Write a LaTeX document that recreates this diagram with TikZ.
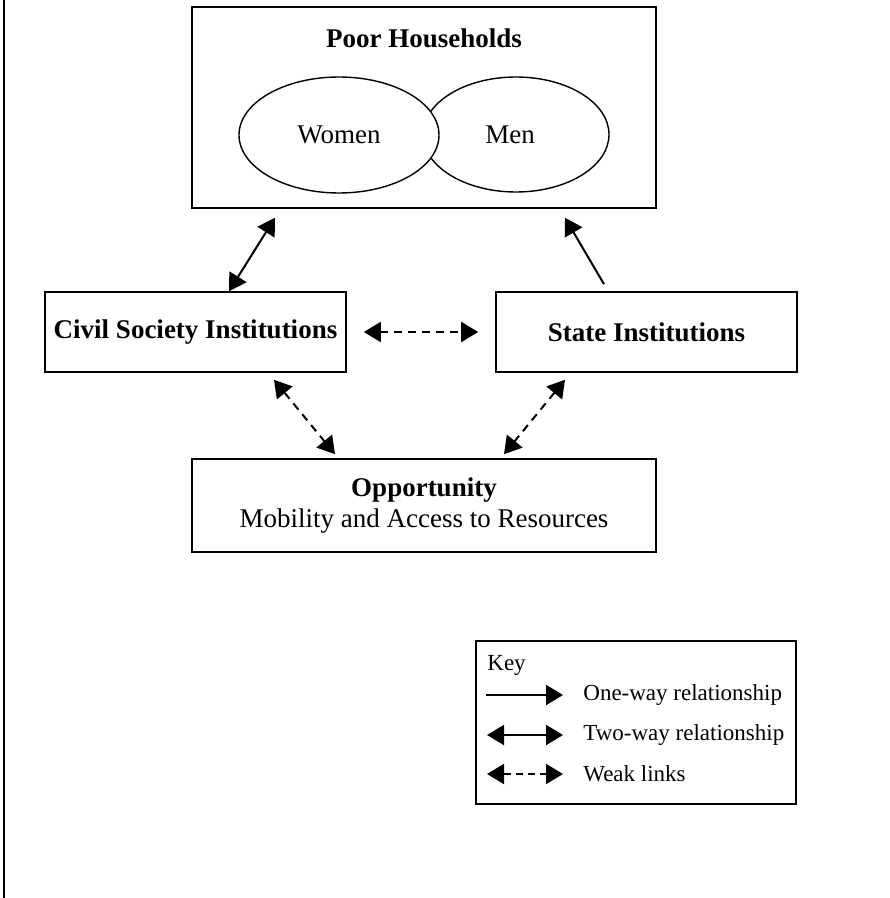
\documentclass[tikz,border=0pt]{standalone}
\usepackage{fontspec}
\setmainfont{Liberation Serif}
\usetikzlibrary{arrows.meta,positioning,calc,shapes.geometric}

\begin{document}
\begin{tikzpicture}[
            x=0.5pt, y=-0.5pt,
            font=\fontsize{13.5}{15.5}\selectfont,
            box/.style={draw, line width=0.8pt, align=center, inner sep=0pt},
            oval/.style={draw, ellipse, line width=0.7pt, fill=white, inner sep=0pt},
            keytext/.style={font=\fontsize{11.5}{13}\selectfont, anchor=west, inner sep=0pt},
            oneway/.style={-{Triangle[length=8.5pt, width=10pt]}, line width=1pt},
            twoway/.style={{Triangle[length=8.5pt, width=10pt]}-{Triangle[length=8.5pt, width=10pt]}, line width=1pt},
            weak/.style={twoway, dash pattern=on 4pt off 3pt}
        ]
            \useasboundingbox (0,0) rectangle (889,898);
            \draw[line width=1pt] (4,0) -- (4,898);

            \node[box, minimum width=232pt, minimum height=100.5pt] (poor) at (424,107.5) {};
            \node[anchor=base, inner sep=0pt] (title) at (424,48) {\textbf{Poor Households}};
            \node[oval, minimum width=93pt, minimum height=57.5pt] (men) at (516,134.5) {};
            \node[oval, minimum width=100pt, minimum height=58pt] (women) at (339,135) {Women};
            \node[inner sep=0pt] (menlabel) at (510,134.5) {Men};

            \node[box, minimum width=150.5pt, minimum height=40pt] (civil) at (195.5,332) {\textbf{Civil Society Institutions}};
            \node[box, minimum width=150.5pt, minimum height=40pt] (state) at (646.5,332) {\textbf{State Institutions}};
            \node[box, minimum width=232pt, minimum height=46.5pt] (opp) at (424,505.5) {\textbf{Opportunity}\\Mobility and Access to Resources};

            \draw[twoway] ($(civil.north)+(33.5,0)$) -- ($(poor.south)+(-149,9)$);
            \draw[oneway] ($(state.north)+(-42.5,-7)$) -- ($(poor.south)+(141,9)$);
            \draw[weak, shorten <=8.5pt, shorten >=8.5pt] (civil) -- (state);
            \draw[weak] ($(civil.south)+(78.5,7)$) -- ($(opp.north)+(-89,-4)$);
            \draw[weak] ($(state.south)+(-81.5,7)$) -- ($(opp.north)+(80,-4)$);

            % key
            \node[box, minimum width=160pt, minimum height=81.5pt] (keybox) at (636,722.5) {};
            \node[keytext] (key) at (487,665) {Key};
            \node[keytext] (one) at (583,695) {One-way relationship};
            \node[keytext] (two) at (583,735) {Two-way relationship};
            \node[keytext] (links) at (583,774) {Weak links};
            \coordinate (k1) at (486,695);
            \coordinate (k2) at (487,735);
            \coordinate (k3) at (487,774);
            \draw[oneway] (k1) -- ([xshift=-10pt]one.west);
            \draw[twoway] (k2) -- ([xshift=-10pt]two.west);
            \draw[weak, dash pattern=on 3.5pt off 2.5pt] (k3) -- ([xshift=-10pt]links.west);
        \end{tikzpicture}
\end{document}
